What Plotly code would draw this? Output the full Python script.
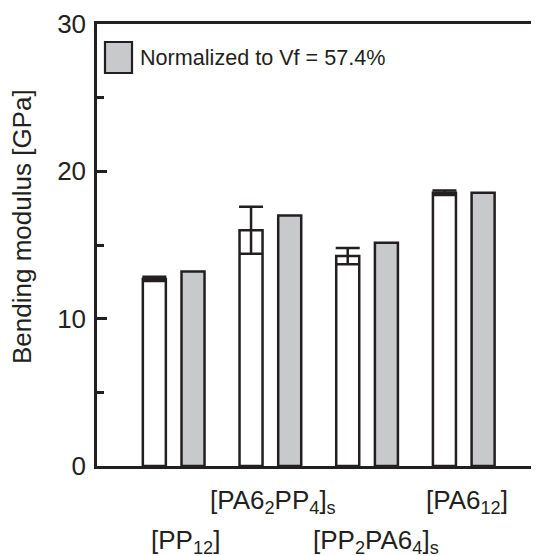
import plotly.graph_objects as go

categories = ["[PP12]", "[PA6_2PP_4]_s", "[PP_2PA6_4]_s", "[PA6_12]"]
tick_labels = [
    "[PP<sub>12</sub>]",
    "[PA6<sub>2</sub>PP<sub>4</sub>]<sub>s</sub>",
    "[PP<sub>2</sub>PA6<sub>4</sub>]<sub>s</sub>",
    "[PA6<sub>12</sub>]",
]
measured = [12.7, 16.0, 14.25, 18.55]
measured_err = [0.15, 1.6, 0.55, 0.15]
normalized = [13.2, 17.0, 15.15, 18.55]

INK = "#231f20"
GRAY = "#c8c9cb"
FONT = "Liberation Sans, Arial, sans-serif"

fig = go.Figure()
fig.add_trace(go.Bar(
    x=categories, y=measured, width=0.238, offset=-0.319,
    marker=dict(color="white", line=dict(color=INK, width=2.5)),
    error_y=dict(type="data", array=measured_err, visible=True,
                 color=INK, thickness=2.5, width=12),
    showlegend=False,
))
fig.add_trace(go.Bar(
    x=categories, y=normalized, width=0.238, offset=0.081,
    marker=dict(color=GRAY, line=dict(color=INK, width=2.5)),
    name="Normalized to Vf = 57.4%",
    showlegend=False,
))

# staggered category labels
rows = [1, 0, 1, 0]
xshifts = [12, 3, 9, 3]
for cat, lab, r, xs in zip(categories, tick_labels, rows, xshifts):
    fig.add_annotation(x=cat, xref="x", y=0, yref="paper", text=lab,
                       showarrow=False, yanchor="middle",
                       yshift=-35 - 40 * r, xshift=xs,
                       font=dict(family=FONT, size=26, color=INK))

# y-axis title (placed as annotation to match reference position)
fig.add_annotation(x=-0.1697, xref="paper", y=0.543, yref="paper",
                   text="Bending modulus [GPa]", textangle=-90,
                   showarrow=False, xanchor="center", yanchor="middle",
                   font=dict(family=FONT, size=26, color=INK))

# legend (custom swatch + text)
fig.add_shape(type="rect", xref="paper", yref="paper",
              x0=0.0181, x1=0.0792, y0=0.8891, y1=0.9593,
              fillcolor=GRAY, line=dict(color=INK, width=2.2))
fig.add_annotation(x=0.0928, xref="paper", y=0.925, yref="paper",
                   text="Normalized to Vf = 57.4%", showarrow=False,
                   xanchor="left", yanchor="middle",
                   font=dict(family=FONT, size=21.6, color=INK))

fig.update_layout(
    width=531, height=548,
    margin=dict(l=89, r=0, t=16, b=90),
    plot_bgcolor="white", paper_bgcolor="white",
    barmode="overlay",
    font=dict(family=FONT, size=26, color=INK),
    xaxis=dict(range=[-0.793, 3.778], showticklabels=False, ticks="",
               showline=True, linecolor=INK, linewidth=2.5, mirror=True,
               showgrid=False, zeroline=False, fixedrange=True),
    yaxis=dict(range=[0, 30], dtick=10, ticks="inside", ticklen=10,
               tickwidth=2.5, tickcolor=INK,
               minor=dict(dtick=5, ticks="inside", ticklen=7,
                          tickwidth=2.5, tickcolor=INK),
               showline=True, linecolor=INK, linewidth=2.5, mirror=False,
               showgrid=False, zeroline=False, ticklabelstandoff=3,
               tickfont=dict(family=FONT, size=26, color=INK)),
)

fig.write_html("out.html")
